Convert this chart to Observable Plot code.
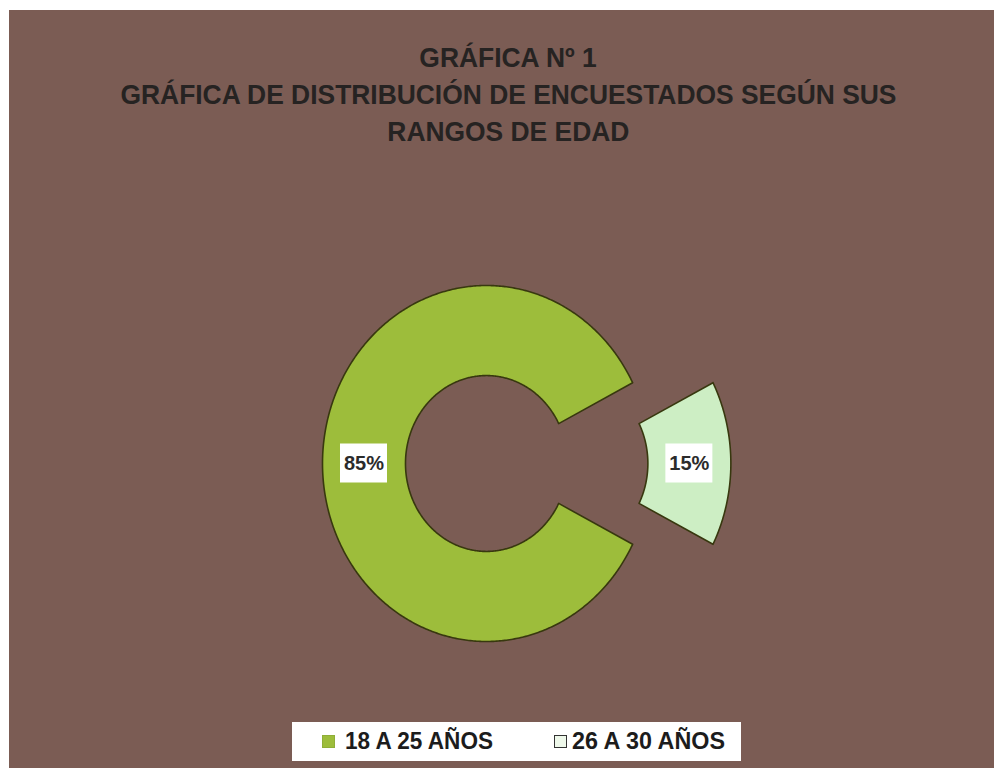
<!DOCTYPE html>
<html>
<head>
<meta charset="utf-8">
<script src="https://cdn.jsdelivr.net/npm/d3@7"></script>
<script src="https://cdn.jsdelivr.net/npm/@observablehq/plot@0.6"></script>
<style>
  html, body { margin: 0; padding: 0; background: #ffffff; }
  #page { position: relative; width: 994px; height: 768px; overflow: hidden;
          font-family: "Liberation Sans", Arial, sans-serif; }
  #frame { position: absolute; left: 9px; top: 10px; right: 0; bottom: 0; background: #7b5c54; }
  .tline { position: absolute; left: 0; width: 1016px; text-align: center;
           font-size: 28px; line-height: 28px; font-weight: bold; color: #262322; white-space: nowrap; }
  .tline span { display: inline-block; transform-origin: 50% 50%; }
  #chart { position: absolute; left: 0; top: 180px; }
  #legend { position: absolute; left: 292px; top: 722px; width: 449px; height: 39px; background: #ffffff; }
  .sw { position: absolute; width: 13px; height: 13px; box-sizing: border-box; }
  .lt { position: absolute; font-size: 23px; line-height: 23px; font-weight: bold; color: #1c1c1c;
        white-space: nowrap; transform-origin: 0 50%; }
</style>
</head>
<body>
<div id="page">
  <div id="frame"></div>
  <div class="tline" style="top:44px"><span id="t1"></span></div>
  <div class="tline" style="top:81px"><span id="t2"></span></div>
  <div class="tline" style="top:118px"><span id="t3"></span></div>
  <div id="chart"></div>
  <div id="legend"></div>
</div>
<script>
// ---- data ----
const titleLines = ["GRÁFICA Nº 1", "GRÁFICA DE DISTRIBUCIÓN DE ENCUESTADOS SEGÚN SUS", "RANGOS DE EDAD"];
const categories = ["18 A 25 AÑOS", "26 A 30 AÑOS"];
const values = [85, 15];
const valueLabels = ["85%", "15%"];

// ---- styles / layout ----
const sliceColors = ["#9dbd3b", "#cdeec4"];
const outlineColor = "#38380f";
const explodeBy = [0, 0.49];           // radial offset of each slice, in radius units
const innerRatio = 0.494;
const W = 994, H = 535;
const cx = 486, cy = 283;               // centre of the ring in svg pixels
const pxX = 164, pxY = 178;             // pixels per radius unit (x, y)

// ---- title ----
["t1","t2","t3"].forEach((id, i) => { document.getElementById(id).textContent = titleLines[i]; });
const t2 = document.getElementById("t2");
const k = 776 / t2.getBoundingClientRect().width;
["t1","t2","t3"].forEach(id => { document.getElementById(id).style.transform = `scaleX(${k})`; });

// ---- geometry from data ----
const total = d3.sum(values);
const startA = Math.PI / 2 + Math.PI * values[1] / total;
const arcs = d3.pie().sort(null).startAngle(startA).endAngle(startA + 2 * Math.PI)(values);

const rows = [];
const labelRows = [];
arcs.forEach((a, i) => {
  const mid = (a.startAngle + a.endAngle) / 2;
  const ox = Math.sin(mid) * explodeBy[i], oy = Math.cos(mid) * explodeBy[i];
  const n = Math.ceil((a.endAngle - a.startAngle) / 0.01);
  const pts = [];
  for (let j = 0; j <= n; j++) {
    const t = a.startAngle + (a.endAngle - a.startAngle) * j / n;
    pts.push({ cat: categories[i], x: ox + Math.sin(t), y: oy + Math.cos(t) });
  }
  for (let j = n; j >= 0; j--) {
    const t = a.startAngle + (a.endAngle - a.startAngle) * j / n;
    pts.push({ cat: categories[i], x: ox + innerRatio * Math.sin(t), y: oy + innerRatio * Math.cos(t) });
  }
  pts.push({ ...pts[0] });
  rows.push(pts);
  const rm = (1 + innerRatio) / 2;
  labelRows.push({ text: valueLabels[i], x: ox + rm * Math.sin(mid), y: oy + rm * Math.cos(mid) });
});

const hw = 23.5 / pxX, hh = 19.5 / pxY;

const chart = Plot.plot({
  width: W, height: H, margin: 0,
  x: { domain: [-cx / pxX, (W - cx) / pxX], axis: null },
  y: { domain: [-(H - cy) / pxY, cy / pxY], axis: null },
  style: { background: "transparent", overflow: "visible" },
  marks: [
    ...rows.map((pts, i) => Plot.line(pts, {
      x: "x", y: "y", fill: sliceColors[i], stroke: outlineColor, strokeWidth: 1.6, curve: "linear"
    })),
    Plot.rect(labelRows, {
      x1: d => d.x - hw, x2: d => d.x + hw, y1: d => d.y - hh, y2: d => d.y + hh, fill: "#ffffff"
    }),
    Plot.text(labelRows, {
      x: "x", y: "y", text: "text", fontSize: 20, fontWeight: "bold", fill: "#2b2b2b",
      fontFamily: "Liberation Sans, Arial, sans-serif"
    })
  ]
});
document.getElementById("chart").appendChild(chart);

// ---- legend ----
const legend = document.getElementById("legend");
const swX = [30, 262], txX = [53, 280], txW = [148, 153];
categories.forEach((c, i) => {
  const sw = document.createElement("div");
  sw.className = "sw";
  sw.style.left = swX[i] + "px";
  sw.style.top = "13px";
  sw.style.background = i === 0 ? sliceColors[0] : "#eef8ea";
  sw.style.border = i === 0 ? "1px solid #8fae38" : "1.5px solid #333";
  legend.appendChild(sw);
  const t = document.createElement("div");
  t.className = "lt";
  t.textContent = c;
  t.style.left = txX[i] + "px";
  t.style.top = "8px";
  legend.appendChild(t);
  const s = txW[i] / t.getBoundingClientRect().width;
  t.style.transform = `scaleX(${s})`;
});
</script>
</body>
</html>
